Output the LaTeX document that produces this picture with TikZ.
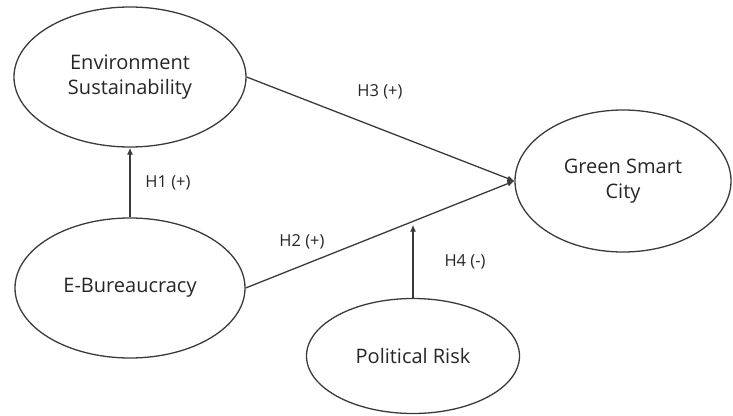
\documentclass[tikz,border=0pt]{standalone}
\usepackage{fontspec}
\setmainfont{Open Sans}
\usepackage{tikz}
\usetikzlibrary{positioning,shapes.geometric,arrows.meta,calc}
\definecolor{linegray}{HTML}{3A3A3A}
\definecolor{textgray}{HTML}{262626}

\tikzset{construct/.style={draw=linegray, line width=1.3pt, ellipse, inner sep=0pt,
    minimum width=232pt, minimum height=140pt, align=center, text=textgray,
    font=\fontsize{20}{25}\selectfont},
  hyp/.style={draw=linegray, line width=1.3pt, -{Latex[length=7pt,width=6pt]}},
  hyplabel/.style={text=textgray, font=\fontsize{16.5}{20}\selectfont}}

\begin{document}
\begin{tikzpicture}[x=1pt,y=-1pt]
\useasboundingbox (0,0) rectangle (733,415);
% constructs
\node[construct] (env) at (130,77) {Environment\\Sustainability};
\node[construct, minimum width=230pt] (ebur) at (130,288) {E-Bureaucracy};
\node[construct, minimum width=216pt, minimum height=142pt] (gsc) at (623,181) {Green Smart\\City};
\node[construct, minimum width=213pt, minimum height=115pt] (prisk) at (413,356) {Political Risk};
% paths
\draw[hyp] (ebur.north) -- (env.south);
\draw[hyp] (env.east) -- (gsc.west);
\draw[hyp] (ebur.east) -- coordinate[pos=0.62] (moder) (gsc.west);
\draw[hyp] (prisk.north) -- ($(prisk.north |- moder)+(0,3)$);
% labels
\node[hyplabel] (h1) at (168,183) {H1 (+)};
\node[hyplabel] (h2) at (302,242) {H2 (+)};
\node[hyplabel] (h3) at (380,92) {H3 (+)};
\node[hyplabel] (h4) at (465,262) {H4 (-)};
\end{tikzpicture}
\end{document}
